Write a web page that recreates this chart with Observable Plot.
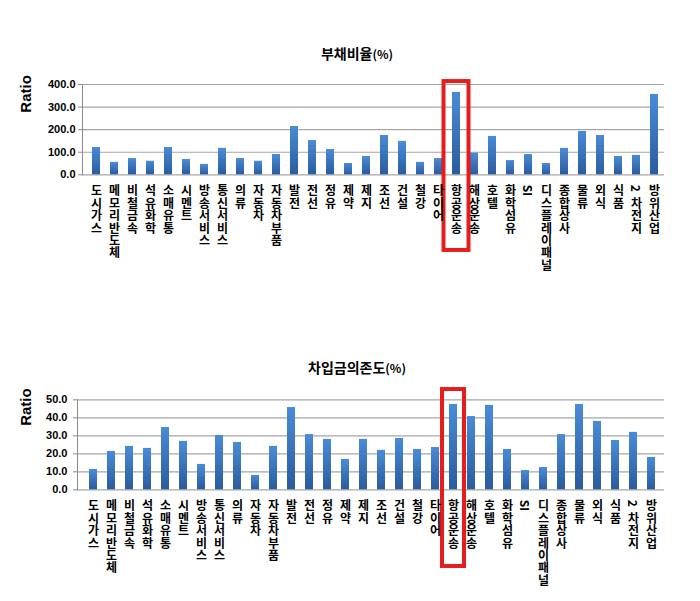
<!DOCTYPE html>
<html><head><meta charset="utf-8">
<script src="https://cdn.jsdelivr.net/npm/d3@7"></script>
<script src="https://cdn.jsdelivr.net/npm/@observablehq/plot@0.6"></script>
<style>
body{margin:0;background:#fff;font-family:"Noto Sans CJK KR","Noto Sans",sans-serif;}
#wrap{position:relative;width:700px;height:601px;overflow:hidden;}
.title{position:absolute;left:0;width:714px;text-align:center;font-weight:bold;font-size:14px;line-height:20px;color:#000;}
.title span{font-size:12px;}
.panel{position:absolute;left:0;}
</style></head><body>
<div id="wrap">
  <div class="title" style="top:43px">부채비율<span>(%)</span></div>
  <div class="title" style="top:357px">차입금의존도<span>(%)</span></div>
  <div class="panel" id="p1" style="top:0px"></div>
  <div class="panel" id="p2" style="top:300px"></div>
</div>
<script>
const categories = ["도시가스","메모리반도체","비철금속","석유화학","소매유통","시멘트","방송서비스","통신서비스","의류","자동차","자동차부품","발전","전선","정유","제약","제지","조선","건설","철강","타이어","항공운송","해상운송","호텔","화학섬유","SI","디스플레이패널","종합상사","물류","외식","식품","2차전지","방위산업"];
const debtRatio = [121,55,72,60,121,68,46,117,72,60,90,214,152,112,50,81,174,148,55,72,365,96,170,63,90,50,117,192,174,81,86,356];
const borrowingDependence = [11.3,21.3,24.1,23.0,34.6,26.9,14.1,30.2,26.3,8.0,24.1,45.7,30.7,28.0,16.9,28.0,21.9,28.5,22.4,23.5,47.4,40.7,46.9,22.4,10.7,12.4,30.7,47.4,38.0,27.4,31.9,18.0];
const debtTicks = [0,100,200,300,400];
const borrowTicks = [0,10,20,30,40,50];
const highlight = "항공운송";
const debtBox = [{cat: highlight, top: 413, bottom: -335}];
const borrowBox = [{cat: highlight, top: 55.7, bottom: -42.6}];

// each category label is stacked one character per line (Latin/digit runs kept together)
const LINE = 12.4;
const labelRows = categories.flatMap(c => (c.match(/[A-Za-z0-9]+|\S/g) || []).map((tok, i) => ({cat: c, i, tok})));
const maxLen = d3.max(labelRows, d => d.i) + 1;
const tokenSet = new Set(labelRows.map(d => d.tok));

function labelMarks(dy0) {
  const marks = [];
  for (let k = 0; k < maxLen; k++) {
    marks.push(Plot.text(labelRows.filter(d => d.i === k), {
      x: "cat", text: "tok", frameAnchor: "bottom", dy: dy0 + k * LINE,
      textAnchor: "start", lineAnchor: "bottom",
      fontSize: 12, fontWeight: "bold", fill: "#000"
    }));
  }
  return marks;
}

function makeChart({values, ticks, domain, box, height, marginTop, marginBottom, marginLeft, insetLeft, tickPadding, ratioDx, ratioDy, gradId, boxInset}) {
  const rows = categories.map((c, i) => ({cat: c, v: values[i]}));
  const chart = Plot.plot({
    width: 700, height, marginTop, marginBottom, marginLeft, marginRight: 36,
    style: {fontFamily: "'Noto Sans CJK KR', sans-serif", background: "transparent", overflow: "visible"},
    x: {domain: categories, paddingInner: 0.56, paddingOuter: 0.28, insetLeft, axis: null},
    y: {domain, axis: null},
    marks: [
      Plot.gridY(ticks, {stroke: "#a6a6a6", strokeOpacity: 1, strokeWidth: 1.2}),
      Plot.frame({anchor: "left", stroke: "#8c8c8c"}),
      Plot.axisY(ticks, {tickFormat: d => d.toFixed(1), tickSize: 4, tickPadding, stroke: "#8c8c8c", fontSize: 11, fontWeight: "bold", fontFamily: "'Liberation Sans', Arial, sans-serif", fill: "#000", label: null}),
      Plot.barY(rows, {x: "cat", y: "v", fill: `url(#${gradId})`}),
      Plot.barY(box, {x: "cat", y1: "bottom", y2: "top", fill: "none", stroke: "#e41e1e", strokeWidth: 4, insetLeft: boxInset, insetRight: boxInset}),
      Plot.text(["Ratio"], {frameAnchor: "left", dx: ratioDx, dy: ratioDy, rotate: -90, fontSize: 15, fontWeight: "bold", fontFamily: "'Liberation Sans', Arial, sans-serif", fill: "#000"}),
      ...labelMarks(10)
    ]
  });
  d3.select(chart).insert("defs", ":first-child").html(
    `<linearGradient id="${gradId}" x1="0" y1="0" x2="0" y2="1"><stop offset="0" stop-color="#4a8bd8"/><stop offset="1" stop-color="#2a5c9e"/></linearGradient>`);
  // vertical writing for label characters: Hangul upright, Latin/digits turned sideways (as in the original)
  d3.select(chart).selectAll("text")
    .filter(function() { return tokenSet.has(this.textContent); })
    .each(function() {
      this.removeAttribute("dy");
      this.style.writingMode = "vertical-rl";
      this.style.textOrientation = "mixed";
    });
  return chart;
}

document.getElementById("p1").append(makeChart({
  values: debtRatio, ticks: debtTicks, domain: [0, 400], box: debtBox,
  height: 300, marginTop: 84, marginBottom: 125.7, marginLeft: 82, insetLeft: 3,
  tickPadding: 3, ratioDx: -56, ratioDy: -17, gradId: "gTop", boxInset: -8.5
}));
document.getElementById("p2").append(makeChart({
  values: borrowingDependence, ticks: borrowTicks, domain: [0, 50], box: borrowBox,
  height: 301, marginTop: 99.3, marginBottom: 111.7, marginLeft: 77, insetLeft: 2,
  tickPadding: 6, ratioDx: -51, ratioDy: -19, gradId: "gBot", boxInset: -7
}));
</script>
</body></html>
